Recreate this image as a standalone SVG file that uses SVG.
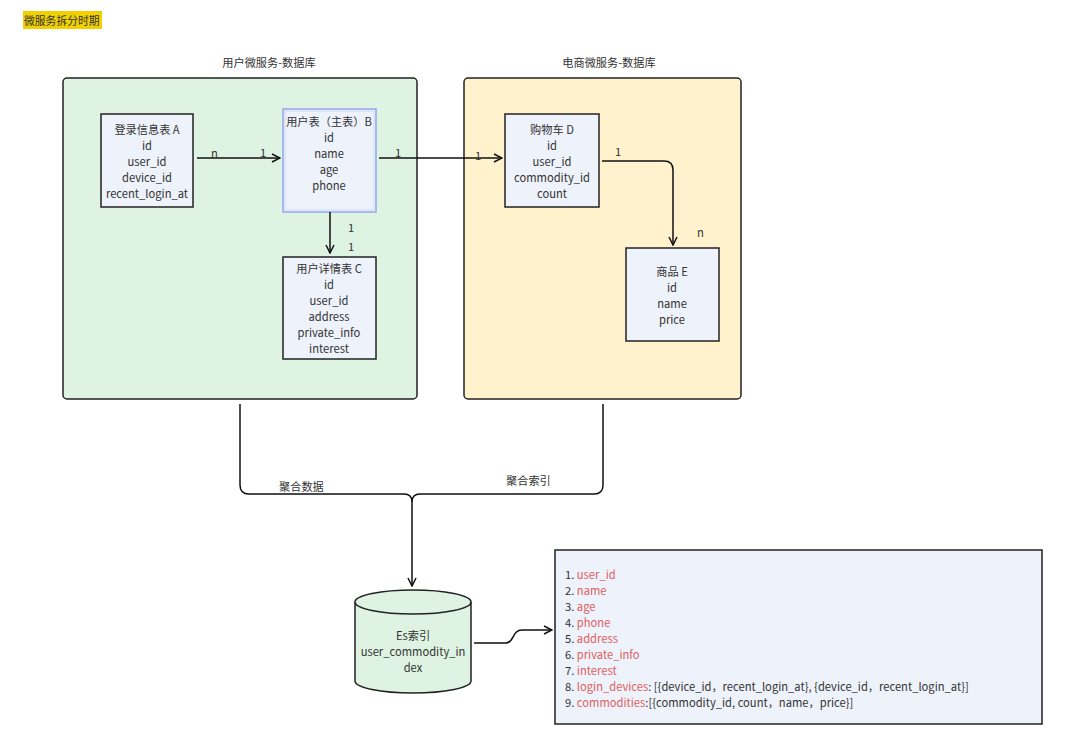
<svg xmlns="http://www.w3.org/2000/svg" width="1080" height="741" viewBox="0 0 1080 741">
<defs>
<style>
text{font-family:"Noto Sans CJK SC","Noto Sans",sans-serif;font-size:11.2px;fill:#333;}
.c{text-anchor:middle;}
.node{fill:#eef2fb;stroke:#222;stroke-width:1.5;}
.edge{fill:none;stroke:#111;stroke-width:1.5;}
.red{fill:#e06060;}
</style>
<marker id="arr" viewBox="0 0 10 10" refX="9" refY="5" markerWidth="10" markerHeight="10" markerUnits="userSpaceOnUse" orient="auto">
<path d="M1,1 L9,5 L1,9" fill="none" stroke="#111" stroke-width="1.5"/>
</marker>
</defs>
<rect width="1080" height="741" fill="#fff"/>
<g id="title">
<rect x="23" y="11" width="79" height="18" fill="#f0d000"/>
<text x="24" y="24.5" style="font-size:10.8px">微服务拆分时期</text>
</g>
<g id="container-user">
<rect x="63" y="78" width="354" height="321" rx="4" fill="#dff3e3" stroke="#222" stroke-width="1.5"/>
<text x="269" y="67" class="c">用户微服务-数据库</text>
</g>
<g id="container-shop">
<rect x="464" y="78" width="277" height="321" rx="4" fill="#fff2cc" stroke="#222" stroke-width="1.5"/>
<text x="609" y="67" class="c">电商微服务-数据库</text>
</g>
<g id="node-A">
<rect x="101" y="114" width="92" height="93" class="node"/>
<text class="c" x="147" y="134">登录信息表 A</text>
<text class="c" x="147" y="150">id</text>
<text class="c" x="147" y="166">user_id</text>
<text class="c" x="147" y="182">device_id</text>
<text class="c" x="147" y="198">recent_login_at</text>
</g>
<g id="node-B">
<rect x="283" y="109" width="93" height="103" fill="#eef2fb" stroke="#8fa8f0" stroke-width="1.5"/>
<rect x="285" y="111" width="89" height="99" fill="none" stroke="#c7d3f7" stroke-width="0.8"/>
<text class="c" x="329" y="126">用户表（主表）B</text>
<text class="c" x="329" y="142">id</text>
<text class="c" x="329" y="158">name</text>
<text class="c" x="329" y="174">age</text>
<text class="c" x="329" y="190">phone</text>
</g>
<g id="node-C">
<rect x="283" y="257" width="93" height="102" class="node"/>
<text class="c" x="329" y="273">用户详情表 C</text>
<text class="c" x="329" y="289">id</text>
<text class="c" x="329" y="305">user_id</text>
<text class="c" x="329" y="321">address</text>
<text class="c" x="329" y="337">private_info</text>
<text class="c" x="329" y="353">interest</text>
</g>
<g id="node-D">
<rect x="505" y="114" width="94" height="93" class="node"/>
<text class="c" x="552" y="134">购物车 D</text>
<text class="c" x="552" y="150">id</text>
<text class="c" x="552" y="166">user_id</text>
<text class="c" x="552" y="182">commodity_id</text>
<text class="c" x="552" y="198">count</text>
</g>
<g id="node-E">
<rect x="626" y="248" width="93" height="93" class="node"/>
<text class="c" x="672" y="276">商品 E</text>
<text class="c" x="672" y="292">id</text>
<text class="c" x="672" y="308">name</text>
<text class="c" x="672" y="324">price</text>
</g>
<g id="node-ES">
<path d="M355,602 L355,681 A58,12 0 0 0 471,681 L471,602" fill="#dff3e3" stroke="#222" stroke-width="1.5"/>
<ellipse cx="413" cy="602" rx="58" ry="12" fill="#dff3e3" stroke="#222" stroke-width="1.5"/>
<text class="c" x="413" y="640">Es索引</text>
<text class="c" x="413" y="656">user_commodity_in</text>
<text class="c" x="413" y="672">dex</text>
</g>
<g id="node-list">
<rect x="555" y="550" width="487" height="174" class="node"/>
<text x="565" y="579">1. <tspan class="red">user_id</tspan></text>
<text x="565" y="595">2. <tspan class="red">name</tspan></text>
<text x="565" y="611">3. <tspan class="red">age</tspan></text>
<text x="565" y="627">4. <tspan class="red">phone</tspan></text>
<text x="565" y="643">5. <tspan class="red">address</tspan></text>
<text x="565" y="659">6. <tspan class="red">private_info</tspan></text>
<text x="565" y="675">7. <tspan class="red">interest</tspan></text>
<text x="565" y="691">8. <tspan class="red">login_devices</tspan>: [{device_id，recent_login_at}, {device_id，recent_login_at}]</text>
<text x="565" y="707">9. <tspan class="red">commodities</tspan>:[{commodity_id, count，name，price}]</text>
</g>
<g id="connectors">
<path class="edge" d="M197,158 L280,158" marker-end="url(#arr)"/>
<text x="211" y="158">n</text>
<text x="260" y="157">1</text>
<path class="edge" d="M379,158 L502,158" marker-end="url(#arr)"/>
<text x="395" y="157">1</text>
<text x="475" y="160">1</text>
<path class="edge" d="M330,212 L330,253" marker-end="url(#arr)"/>
<text x="348" y="232">1</text>
<text x="348" y="251">1</text>
<path class="edge" d="M602,161 L664,161 Q673,161 673,170 L673,245" marker-end="url(#arr)"/>
<text x="615" y="156">1</text>
<text x="697" y="237">n</text>
<path class="edge" d="M240,404 L240,485 Q240,494 249,494 L404,494 Q412,494 412,502 L412,586" marker-end="url(#arr)"/>
<path class="edge" d="M603,404 L603,485 Q603,494 594,494 L420,494 Q412,494 412,502"/>
<text x="279" y="491">聚合数据</text>
<text x="506" y="485">聚合索引</text>
<path class="edge" d="M474,643 L506,643 C514,643 512,630 522,630 L552,630" marker-end="url(#arr)"/>
</g>
</svg>
